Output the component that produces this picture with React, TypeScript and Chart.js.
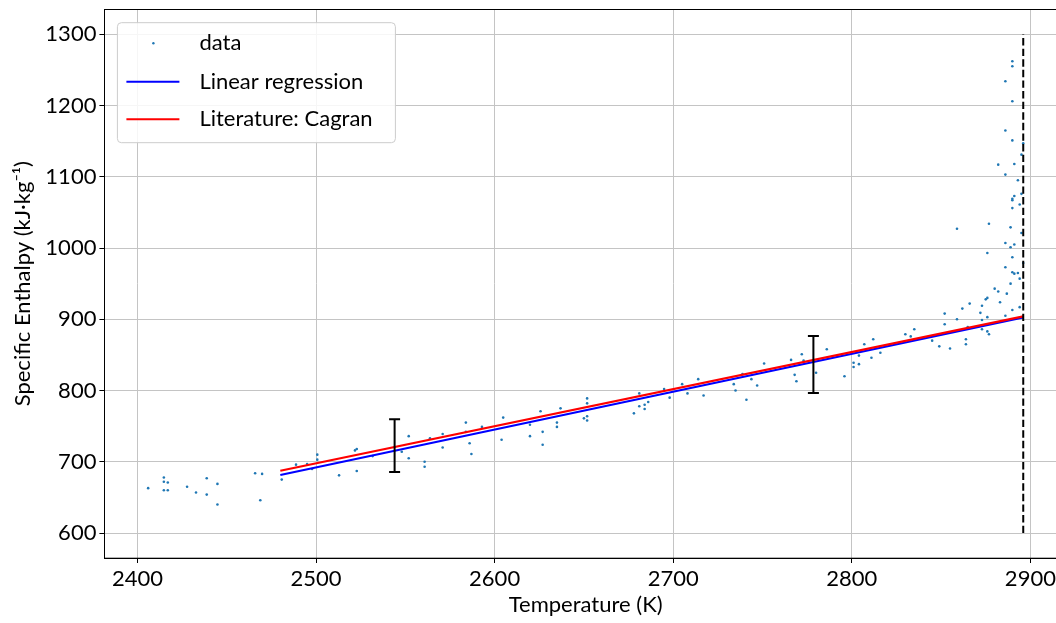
import React, { useEffect, useRef } from "react";
import { Chart, registerables } from "chart.js";
Chart.register(...registerables);

// ---- data ----
const temperature = [
  2406.0, 2414.8, 2414.8, 2417.0, 2414.8, 2417.0, 2427.8, 2432.8, 2438.8, 2438.8,
  2444.8, 2444.8, 2465.9, 2469.8, 2468.8, 2480.8, 2488.8, 2495.0, 2497.8, 2500.7,
  2500.7, 2512.9, 2521.8, 2522.8, 2522.8, 2531.7, 2548.0, 2551.9, 2551.9, 2560.8,
  2560.8, 2563.8, 2570.9, 2570.9, 2583.9, 2583.9, 2586.0, 2587.0, 2592.9, 2604.8,
  2603.9, 2619.8, 2619.8, 2625.7, 2626.9, 2626.9, 2634.9, 2634.9, 2636.9, 2650.0,
  2651.8, 2651.8, 2651.8, 2651.8, 2678.0, 2681.0, 2681.0, 2684.0, 2684.0, 2686.0,
  2694.9, 2698.0, 2705.0, 2708.0, 2714.0, 2717.0, 2733.9, 2734.9, 2738.8, 2741.0,
  2743.8, 2747.0, 2750.9, 2766.0, 2768.0, 2769.0, 2772.0, 2773.0, 2780.0, 2786.0,
  2795.9, 2801.0, 2801.0, 2804.0, 2804.0, 2807.0, 2811.0, 2812.0, 2816.0, 2830.0,
  2833.0, 2835.0, 2845.0, 2849.0, 2852.0, 2852.0, 2855.0, 2858.9, 2858.9, 2861.9,
  2863.9, 2863.9, 2864.9, 2866.0, 2872.0, 2872.9, 2872.9, 2872.9, 2875.0, 2875.9,
  2875.9, 2875.9, 2876.8, 2875.9, 2876.8, 2880.0, 2882.0, 2883.0, 2886.0, 2886.0,
  2886.0, 2886.8, 2888.9, 2888.9, 2888.9, 2889.9, 2889.9, 2889.9, 2889.9, 2891.0,
  2891.0, 2893.0, 2894.0, 2894.0, 2894.0, 2895.0, 2896.0, 2889.9, 2889.9, 2889.9,
  2886.0, 2889.9, 2886.0, 2889.9, 2896.0, 2895.0, 2882.0, 2891.0, 2886.0, 2893.0,
  2895.0, 2891.0, 2889.9,
];
const enthalpy = [
  663, 678, 672, 671, 660, 660, 665, 657, 677, 654,
  669, 640, 684, 683, 646, 675, 696, 697, 690, 710,
  703, 681, 716, 718, 687, 708, 714, 736, 705, 700,
  693, 733, 739, 720, 755, 742, 726, 711, 749, 762,
  731, 752, 736, 771, 742, 724, 755, 749, 775, 761,
  789, 782, 764, 758, 768, 796, 778, 780, 774, 784,
  802, 790, 809, 796, 816, 793, 809, 800, 823, 787,
  816, 807, 838, 843, 822, 813, 851, 842, 825, 858,
  820, 839, 833, 849, 837, 865, 846, 872, 853, 879,
  876, 886, 870, 862, 908, 893, 859, 1027, 900, 915,
  872, 865, 889, 922, 909, 919, 899, 886, 928, 930,
  903, 883, 1034, 993, 879, 943, 939, 924, 1007, 973,
  905, 936, 1029, 1001, 950, 1056, 987, 966, 913, 1005,
  964, 965, 1061, 957, 917, 1021, 979, 1067, 1262, 1255,
  1234, 1206, 1165, 1151, 1147, 1131, 1117, 1118, 1103, 1095,
  1076, 1073, 1069,
];
const fitT = [2480, 2896];
const regressionH = [681.5, 902.5];
const literatureH = [687.5, 904];
const errorT = [2544, 2778.5];
const errorCenter = [722.6, 836.7];
const errorHalf = [37, 40];
const meltT = [2896, 2896];
const meltH = [600, 1300];
const xTicks = [2400, 2500, 2600, 2700, 2800, 2900];
const yTicks = [600, 700, 800, 900, 1000, 1100, 1200, 1300];
const legendLabels = ["data", "Linear regression", "Literature: Cagran"];
const xTitle = "Temperature (K)";
const yTitle = "Specific Enthalpy (kJ·kg⁻¹)";

const FONT = "Lato";
const FS = 22;

const errorBarPlugin = {
  id: "errorBars",
  afterDatasetsDraw(chart: any) {
    const { ctx, scales } = chart;
    const xs = scales.x, ys = scales.y;
    ctx.save();
    ctx.strokeStyle = "#000";
    ctx.lineWidth = 2;
    errorT.forEach((t, i) => {
      const px = xs.getPixelForValue(t);
      const top = ys.getPixelForValue(errorCenter[i] + errorHalf[i]);
      const bot = ys.getPixelForValue(errorCenter[i] - errorHalf[i]);
      ctx.beginPath();
      ctx.moveTo(px, top); ctx.lineTo(px, bot);
      ctx.moveTo(px - 5.5, top); ctx.lineTo(px + 5.5, top);
      ctx.moveTo(px - 5.5, bot); ctx.lineTo(px + 5.5, bot);
      ctx.stroke();
    });
    ctx.restore();
  },
};

const framePlugin = {
  id: "frame",
  afterDraw(chart: any) {
    const { ctx, chartArea: a } = chart;
    ctx.save();
    ctx.strokeStyle = "#000";
    ctx.lineWidth = 1;
    ctx.strokeRect(Math.round(a.left) + 0.5, Math.round(a.top) + 0.5, a.right - a.left, a.bottom - a.top);
    ctx.restore();
  },
};

const legendPlugin = {
  id: "insideLegend",
  afterDraw(chart: any) {
    const { ctx, chartArea: a } = chart;
    const x0 = a.left + 13, y0 = a.top + 13.4, w = 278, h = 120, r = 4;
    ctx.save();
    ctx.beginPath();
    ctx.moveTo(x0 + r, y0);
    ctx.arcTo(x0 + w, y0, x0 + w, y0 + h, r);
    ctx.arcTo(x0 + w, y0 + h, x0, y0 + h, r);
    ctx.arcTo(x0, y0 + h, x0, y0, r);
    ctx.arcTo(x0, y0, x0 + w, y0, r);
    ctx.closePath();
    ctx.fillStyle = "rgba(255,255,255,0.85)";
    ctx.fill();
    ctx.strokeStyle = "#cccccc";
    ctx.lineWidth = 1;
    ctx.stroke();
    const rowY = [y0 + 20.6, y0 + 59, y0 + 96.6];
    const colors = ["#1f77b4", "#0000ff", "#ff0000"];
    ctx.font = `${FS}px ${FONT}`;
    ctx.textBaseline = "middle";
    ctx.fillStyle = "#000";
    legendLabels.forEach((lab, i) => {
      if (i === 0) {
        ctx.fillStyle = colors[0];
        ctx.beginPath();
        ctx.arc(x0 + 36, rowY[0], 1.2, 0, Math.PI * 2);
        ctx.fill();
      } else {
        ctx.strokeStyle = colors[i];
        ctx.lineWidth = 2;
        ctx.beginPath();
        ctx.moveTo(x0 + 9, rowY[i]);
        ctx.lineTo(x0 + 62, rowY[i]);
        ctx.stroke();
      }
      ctx.fillStyle = "#000";
      ctx.fillText(lab, x0 + 82, rowY[i]);
    });
    ctx.restore();
  },
};

export default function App() {
  const ref = useRef<HTMLCanvasElement | null>(null);
  useEffect(() => {
    document.body.style.margin = "0";
    document.body.style.overflow = "hidden";
    const canvas = ref.current!;
    const chart = new Chart(canvas, {
      type: "scatter",
      data: {
        datasets: [
          {
            label: legendLabels[0],
            data: temperature.map((t, i) => ({ x: t, y: enthalpy[i] })),
            pointRadius: 1.3,
            pointBorderWidth: 0,
            pointBackgroundColor: "#1f77b4",
            showLine: false,
            order: 5,
          },
          {
            label: legendLabels[1],
            data: fitT.map((t, i) => ({ x: t, y: regressionH[i] })),
            showLine: true,
            borderColor: "#0000ff",
            borderWidth: 2.2,
            pointRadius: 0,
            order: 4,
          },
          {
            label: legendLabels[2],
            data: fitT.map((t, i) => ({ x: t, y: literatureH[i] })),
            showLine: true,
            borderColor: "#ff0000",
            borderWidth: 2.2,
            pointRadius: 0,
            order: 3,
          },
          {
            label: "melting",
            data: meltT.map((t, i) => ({ x: t, y: meltH[i] })),
            showLine: true,
            borderColor: "#000000",
            borderWidth: 2,
            borderDash: [7.4, 3.2],
            pointRadius: 0,
            order: 2,
          },
        ],
      },
      options: {
        responsive: false,
        animation: false,
        layout: { padding: { top: 9.3, right: 33, left: 0, bottom: 0 } },
        plugins: { legend: { display: false }, tooltip: { enabled: false } },
        scales: {
          x: {
            type: "linear",
            min: 2381.5,
            max: 2920.5,
            afterBuildTicks: (s: any) => { s.ticks = xTicks.map((v) => ({ value: v })); },
            afterFit: (s: any) => { s.height = 65; s.paddingLeft = 0; s.paddingRight = 0; },
            grid: { color: "#c4c4c4", lineWidth: 1, tickColor: "#000", tickLength: 5 },
            border: { color: "#000", width: 1 },
            ticks: { color: "#000", font: { family: FONT, size: FS }, padding: 3, maxRotation: 0, callback: (v: any) => String(v) },
            title: { display: true, text: xTitle, color: "#000", font: { family: FONT, size: FS }, padding: { bottom: 4.8 } },
          },
          y: {
            type: "linear",
            min: 565,
            max: 1335,
            afterBuildTicks: (s: any) => { s.ticks = yTicks.map((v) => ({ value: v })); },
            afterFit: (s: any) => { s.width = 104.4; s.paddingTop = 0; s.paddingBottom = 0; },
            grid: { color: "#c4c4c4", lineWidth: 1, tickColor: "#000", tickLength: 5 },
            border: { color: "#000", width: 1 },
            ticks: { color: "#000", font: { family: FONT, size: FS }, padding: 3, callback: (v: any) => String(v) },
            title: { display: true, text: yTitle, color: "#000", font: { family: FONT, size: FS }, padding: { top: 10 } },
          },
        },
      },
      plugins: [errorBarPlugin, framePlugin, legendPlugin],
    } as any);
    return () => chart.destroy();
  }, []);
  return (
    <div style={{ position: "absolute", left: 0, top: 0, width: 1100, height: 623 }}>
      <canvas ref={ref} width={1100} height={623} style={{ width: 1100, height: 623, display: "block" }} />
    </div>
  );
}
